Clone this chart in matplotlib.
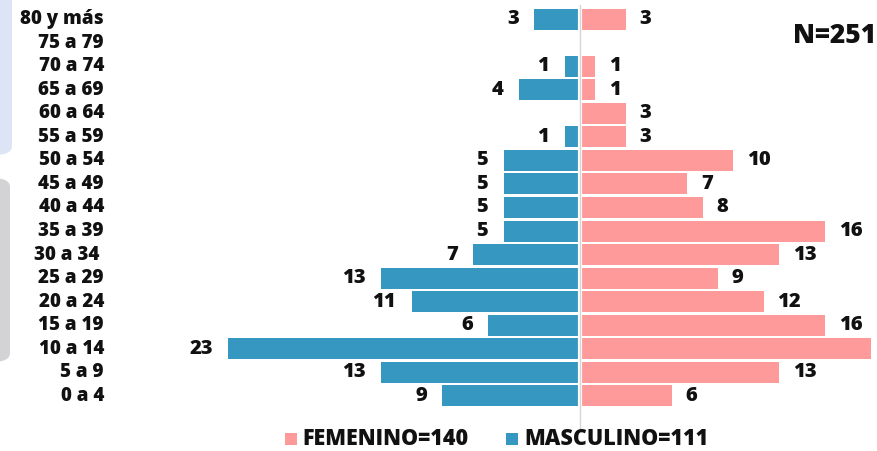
import matplotlib
matplotlib.use("Agg")
import matplotlib.pyplot as plt
import matplotlib.transforms as mtrans
from matplotlib.patches import FancyBboxPatch, Rectangle

categories = ["0 a 4", "5 a 9", "10 a 14", "15 a 19", "20 a 24", "25 a 29", "30 a 34",
              "35 a 39", "40 a 44", "45 a 49", "50 a 54", "55 a 59", "60 a 64",
              "65 a 69", "70 a 74", "75 a 79", "80 y más"]
femenino = [6, 13, 19, 16, 12, 9, 13, 16, 8, 7, 10, 3, 3, 1, 1, 0, 3]
masculino = [9, 13, 23, 6, 11, 13, 7, 5, 5, 5, 5, 1, 0, 4, 1, 0, 3]
legend_labels = ["FEMENINO=140", "MASCULINO=111"]
total_label = "N=251"

PINK = "#FF9A9A"
BLUE = "#3698C0"
FONT = "Open Sans"
WEIGHT = 800
INK = "#111111"

W, H = 877, 451
fig = plt.figure(figsize=(W / 100, H / 100), dpi=100)

# left decorative panels
fig.patches.append(FancyBboxPatch((-20 / W, 1 - 155 / H), 32 / W, 175 / H,
                                  boxstyle="round,pad=0,rounding_size=0.02",
                                  transform=fig.transFigure, fc="#DCE4F5", ec="none"))
fig.patches.append(FancyBboxPatch((-20 / W, 1 - 362 / H), 30 / W, 184 / H,
                                  boxstyle="round,pad=0,rounding_size=0.02",
                                  transform=fig.transFigure, fc="#D3D3D6", ec="none"))

left_px, right_px = 228, 877
top_px, bot_px = 5, 430
ax = fig.add_axes([left_px / W, 1 - bot_px / H, (right_px - left_px) / W, (bot_px - top_px) / H])

XMIN, XMAX = -23, 19.4
y = list(range(len(categories)))
ax.barh(y, [-m for m in masculino], height=0.89, color=BLUE, zorder=2)
ax.barh(y, femenino, height=0.89, color=PINK, zorder=2)
ax.axvline(0, color="white", lw=3.0, zorder=3)
ax.axvline(0, color="#D6D6D6", lw=1.0, zorder=4)

ax.set_xlim(XMIN, XMAX)
ax.set_ylim(-1.45, 16.6)
ax.axis("off")

for yi, m, f in zip(y, masculino, femenino):
    if m > 0:
        ax.text(-m - 1.0, yi, str(m), ha="right", va="center", fontsize=14.5,
                fontweight=WEIGHT, family=FONT, color=INK)
    if f > 0 and f + 2.5 < XMAX:
        ax.text(f + 0.9, yi, str(f), ha="left", va="center", fontsize=14.5,
                fontweight=WEIGHT, family=FONT, color=INK)

# category labels
trans = mtrans.blended_transform_factory(fig.transFigure, ax.transData)
for yi, c in zip(y, categories):
    xp = 104 if c != "30 a 34" else 99
    ax.text(xp / W, yi, c, transform=trans, ha="right", va="center", fontsize=13.5,
            fontweight=WEIGHT, family=FONT, color=INK, clip_on=False)

fig.text(876 / W, 1 - 36 / H, total_label, ha="right", va="center", fontsize=19,
         fontweight=WEIGHT, family=FONT, color=INK)

# legend
ly = 1 - 439 / H
fig.patches.append(Rectangle((285 / W, ly - 6 / H), 12 / W, 12 / H, transform=fig.transFigure,
                             fc=PINK, ec="none"))
fig.text(302 / W, ly, legend_labels[0], ha="left", va="center", fontsize=15.5,
         fontweight=WEIGHT, family=FONT, color=INK)
fig.patches.append(Rectangle((506 / W, ly - 6 / H), 12 / W, 12 / H, transform=fig.transFigure,
                             fc=BLUE, ec="none"))
fig.text(524 / W, ly, legend_labels[1], ha="left", va="center", fontsize=15.5,
         fontweight=WEIGHT, family=FONT, color=INK)

fig.savefig("out.png", dpi=100)
